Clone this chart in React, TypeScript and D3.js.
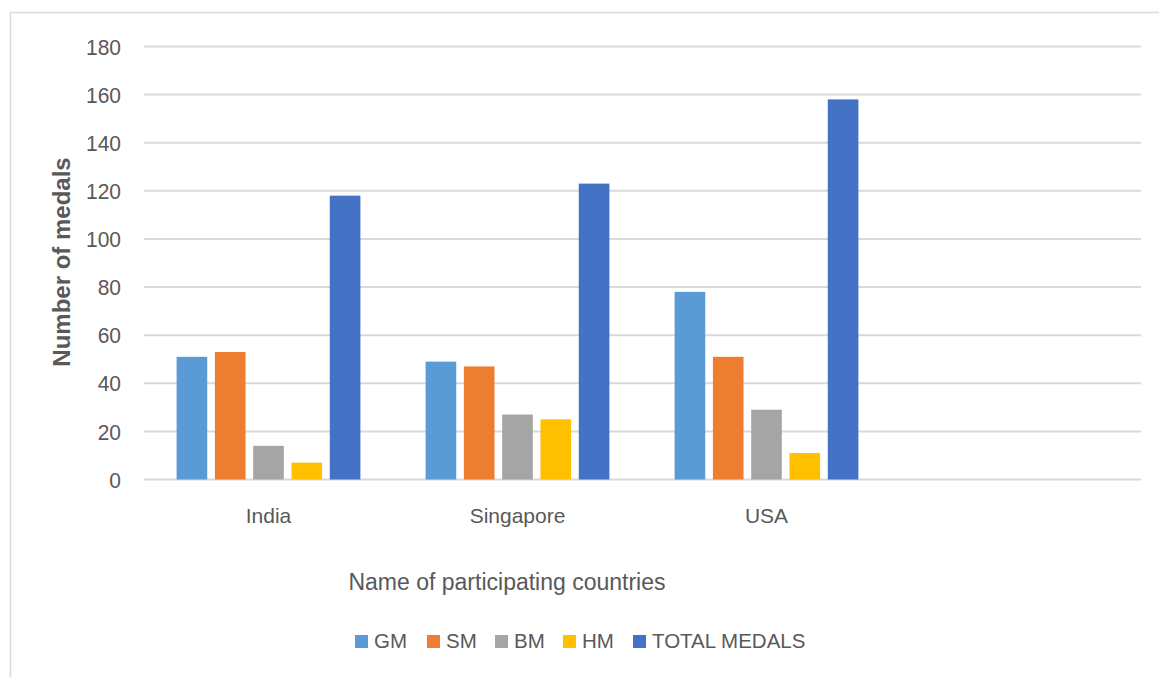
import React from "react";
import * as d3 from "d3";

// Medal counts per participating country
const countries = ["India", "Singapore", "USA", ""];
const seriesNames = ["GM", "SM", "BM", "HM", "TOTAL MEDALS"];
const gm = [51, 49, 78];
const sm = [53, 47, 51];
const bm = [14, 27, 29];
const hm = [7, 25, 11];
const totalMedals = [118, 123, 158];
const yTicks = [0, 20, 40, 60, 80, 100, 120, 140, 160, 180];
const seriesColors = ["#5B9BD5", "#ED7D31", "#A5A5A5", "#FFC000", "#4472C4"];

const W = 1159;
const H = 677;
const FONT = "'Liberation Sans', Arial, sans-serif";
const TEXT = "#595959";

export default function App() {
  const seriesValues = [gm, sm, bm, hm, totalMedals];

  const x0 = d3.scaleBand<string>().domain(countries).range([144, 1140]).padding(0);
  const groupPad = 32.6;
  const x1 = d3
    .scaleBand<string>()
    .domain(seriesNames)
    .range([groupPad, x0.bandwidth() - groupPad])
    .paddingInner(0.2)
    .paddingOuter(0);
  const y = d3.scaleLinear().domain([0, 180]).range([479.5, 46.5]);
  const color = d3.scaleOrdinal<string, string>().domain(seriesNames).range(seriesColors);

  // legend layout: swatch x positions
  const legendX = [355, 427, 495, 563, 633];

  return (
    <svg
      width={W}
      height={H}
      style={{ position: "fixed", left: 0, top: 0, background: "#fff" }}
      fontFamily={FONT}
    >
      <rect x={0} y={0} width={W} height={H} fill="#fff" />
      {/* chart frame */}
      <line x1={10.5} y1={12} x2={10.5} y2={H} stroke="#d9d9d9" strokeWidth={1.5} />
      <line x1={10} y1={12.5} x2={W} y2={12.5} stroke="#d9d9d9" strokeWidth={1.5} />

      {/* gridlines */}
      {yTicks.map((t) => (
        <line
          key={t}
          x1={144}
          x2={1141}
          y1={y(t)}
          y2={y(t)}
          stroke="#d9d9d9"
          strokeWidth={2}
        />
      ))}

      {/* y tick labels */}
      {yTicks.map((t) => (
        <text
          key={"l" + t}
          transform={`translate(121,${y(t)}) scale(1,1.08)`}
          dy="0.36em"
          textAnchor="end"
          fontSize={21}
          fill={TEXT}
        >
          {t}
        </text>
      ))}

      {/* bars */}
      {countries.slice(0, 3).map((c, ci) => (
        <g key={c} transform={`translate(${x0(c)},0)`}>
          {seriesNames.map((s, si) => {
            const v = seriesValues[si][ci];
            return (
              <rect
                key={s}
                x={x1(s)}
                width={x1.bandwidth()}
                y={y(v)}
                height={y(0) - y(v)}
                fill={color(s)}
              />
            );
          })}
        </g>
      ))}

      {/* category labels */}
      {countries.map((c) => (
        <text
          key={"c" + c}
          x={(x0(c) ?? 0) + x0.bandwidth() / 2}
          y={523}
          textAnchor="middle"
          fontSize={21}
          fill={TEXT}
        >
          {c}
        </text>
      ))}

      {/* axis titles */}
      <text
        transform={`translate(70,262) rotate(-90)`}
        textAnchor="middle"
        fontSize={24}
        fontWeight="bold"
        fill={TEXT}
      >
        Number of medals
      </text>
      <text x={507} y={590} textAnchor="middle" fontSize={23} fill={TEXT}>
        Name of participating countries
      </text>

      {/* legend */}
      {seriesNames.map((s, i) => (
        <g key={"lg" + s}>
          <rect x={legendX[i]} y={635} width={13} height={13} fill={color(s)} />
          <text x={legendX[i] + 19} y={648} fontSize={20.5} fill={TEXT}>
            {s}
          </text>
        </g>
      ))}
    </svg>
  );
}
